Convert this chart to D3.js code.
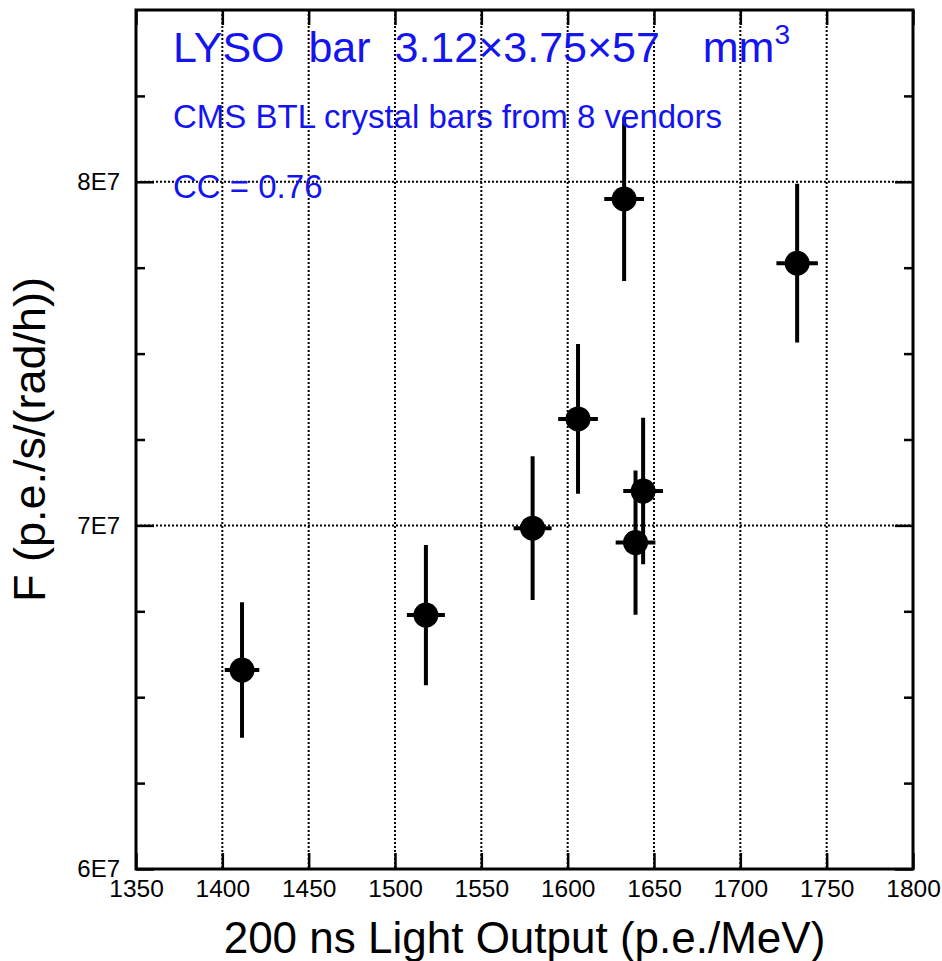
<!DOCTYPE html>
<html>
<head>
<meta charset="utf-8">
<script src="https://cdn.jsdelivr.net/npm/d3@7"></script>
<style>
  body { margin: 0; background: #fff; }
  svg { display: block; font-family: "Liberation Sans", Arial, sans-serif; }
</style>
</head>
<body>
<div id="chart"></div>
<script>
const width = 942;
const height = 961;

// Data: light output (p.e./MeV) vs F (p.e./s/(rad/h))
const lightOutput = [1411.4, 1517.9, 1579.7, 1606.0, 1632.7, 1639.3, 1643.7, 1732.9];
const lightOutputErr = [10, 11, 11, 11.5, 11.5, 11.5, 11.5, 12];
const fValue = [6.579e7, 6.739e7, 6.992e7, 7.310e7, 7.950e7, 6.950e7, 7.100e7, 7.763e7];
const fValueErr = [1.97e6, 2.04e6, 2.09e6, 2.18e6, 2.39e6, 2.10e6, 2.13e6, 2.31e6];

const xTicks = [1350, 1400, 1450, 1500, 1550, 1600, 1650, 1700, 1750, 1800];
const yMajorTicks = [6e7, 7e7, 8e7];
const yMinorTicks = [6.25e7, 6.5e7, 6.75e7, 7.25e7, 7.5e7, 7.75e7, 8.25e7];

const points = lightOutput.map((v, i) => ({
  x: v, xe: lightOutputErr[i], y: fValue[i], ye: fValueErr[i]
}));

const margin = { left: 136, right: 29, top: 10, bottom: 92 };
const plotW = width - margin.left - margin.right;
const plotH = height - margin.top - margin.bottom;

const svg = d3.select('#chart')
  .append('svg')
  .attr('width', width)
  .attr('height', height);

svg.append('rect').attr('width', width).attr('height', height).attr('fill', '#fff');

const g = svg.append('g')
  .attr('transform', `translate(${margin.left},${margin.top})`);

const x = d3.scaleLinear().domain([1350, 1800]).range([0, plotW]);
const y = d3.scaleLinear().domain([6e7, 8.5e7]).range([plotH, 0]);

// dotted grid
g.append('g')
  .selectAll('line')
  .data(xTicks.slice(1, -1))
  .join('line')
    .attr('x1', d => x(d)).attr('x2', d => x(d))
    .attr('y1', 0).attr('y2', plotH)
    .attr('stroke', '#000')
    .attr('stroke-width', 2)
    .attr('stroke-dasharray', '2,2');

g.append('g')
  .selectAll('line')
  .data([7e7, 8e7])
  .join('line')
    .attr('x1', 0).attr('x2', plotW)
    .attr('y1', d => y(d)).attr('y2', d => y(d))
    .attr('stroke', '#000')
    .attr('stroke-width', 2)
    .attr('stroke-dasharray', '2,2');

// axes with inward ticks
function styleAxis(sel) {
  sel.select('.domain').remove();
  sel.selectAll('.tick line').attr('stroke', '#000').attr('stroke-width', 2.5);
  sel.selectAll('.tick text')
    .attr('fill', '#000')
    .style('font-family', '"Liberation Sans", Arial, sans-serif');
}

g.append('g')
  .attr('transform', `translate(0,${plotH})`)
  .call(d3.axisBottom(x).tickValues(xTicks).tickFormat(d3.format('d'))
    .tickSizeInner(-16).tickSizeOuter(0).tickPadding(11))
  .call(styleAxis)
  .selectAll('.tick text').style('font-size', '24.5px');

g.append('g')
  .call(d3.axisTop(x).tickValues(xTicks).tickSizeInner(-15).tickSizeOuter(0).tickFormat(''))
  .call(styleAxis);

g.append('g')
  .call(d3.axisLeft(y).tickValues(yMajorTicks).tickSizeInner(-18).tickSizeOuter(0)
    .tickPadding(16).tickFormat(d => Math.round(d / 1e7) + 'E7'))
  .call(styleAxis)
  .selectAll('.tick text').style('font-size', '24px');

g.append('g')
  .call(d3.axisLeft(y).tickValues(yMinorTicks).tickSizeInner(-9).tickSizeOuter(0).tickFormat(''))
  .call(styleAxis);

g.append('g')
  .attr('transform', `translate(${plotW},0)`)
  .call(d3.axisRight(y).tickValues(yMajorTicks).tickSizeInner(-18).tickSizeOuter(0).tickFormat(''))
  .call(styleAxis);

g.append('g')
  .attr('transform', `translate(${plotW},0)`)
  .call(d3.axisRight(y).tickValues(yMinorTicks).tickSizeInner(-9).tickSizeOuter(0).tickFormat(''))
  .call(styleAxis);

// frame
g.append('rect')
  .attr('width', plotW).attr('height', plotH)
  .attr('fill', 'none')
  .attr('stroke', '#000')
  .attr('stroke-width', 3);

// error bars
const pts = g.append('g');
pts.selectAll('.ey')
  .data(points)
  .join('line')
    .attr('class', 'ey')
    .attr('x1', d => x(d.x)).attr('x2', d => x(d.x))
    .attr('y1', d => y(d.y - d.ye)).attr('y2', d => y(d.y + d.ye))
    .attr('stroke', '#000').attr('stroke-width', 4);

pts.selectAll('.ex')
  .data(points)
  .join('line')
    .attr('class', 'ex')
    .attr('x1', d => x(d.x - d.xe)).attr('x2', d => x(d.x + d.xe))
    .attr('y1', d => y(d.y)).attr('y2', d => y(d.y))
    .attr('stroke', '#000').attr('stroke-width', 4);

pts.selectAll('circle')
  .data(points)
  .join('circle')
    .attr('cx', d => x(d.x))
    .attr('cy', d => y(d.y))
    .attr('r', 12.5)
    .attr('fill', '#000');

// annotations
const blue = '#1414f0';
const title = g.append('text')
  .attr('x', 37).attr('y', 52)
  .attr('fill', blue)
  .style('font-size', '43px')
  .style('white-space', 'pre')
  .attr('xml:space', 'preserve');
title.append('tspan').text('LYSO  bar  3.12×3.75×57   ');
title.append('tspan').attr('dx', 7).text('mm');
title.append('tspan').attr('dy', -18).style('font-size', '28px').text('3');

g.append('text')
  .attr('x', 37).attr('y', 118)
  .attr('fill', blue)
  .style('font-size', '33px')
  .text('CMS BTL crystal bars from 8 vendors');

g.append('text')
  .attr('x', 37).attr('y', 188)
  .attr('fill', blue)
  .style('font-size', '33px')
  .text('CC = 0.76');

// axis titles
svg.append('text')
  .attr('x', margin.left + plotW / 2)
  .attr('y', 953)
  .attr('text-anchor', 'middle')
  .style('font-size', '44px')
  .text('200 ns Light Output (p.e./MeV)');

svg.append('text')
  .attr('transform', `translate(45,${margin.top + plotH / 2}) rotate(-90)`)
  .attr('text-anchor', 'middle')
  .style('font-size', '45px')
  .text('F (p.e./s/(rad/h))');
</script>
</body>
</html>
